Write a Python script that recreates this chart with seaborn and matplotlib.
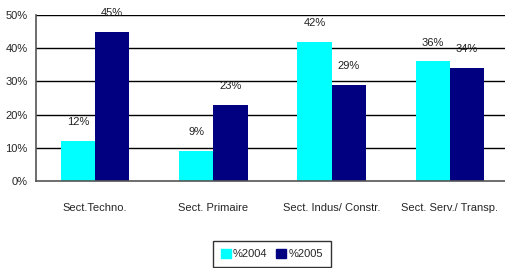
import matplotlib
matplotlib.use("Agg")
import matplotlib.pyplot as plt
import seaborn as sns
import pandas as pd

categories = ["Sect.Techno.", "Sect. Primaire", "Sect. Indus/ Constr.", "Sect. Serv./ Transp."]
series_names = ["%2004", "%2005"]
values_2004 = [12, 9, 42, 36]
values_2005 = [45, 23, 29, 34]
y_ticks = [0, 10, 20, 30, 40, 50]
y_tick_labels = ["0%", "10%", "20%", "30%", "40%", "50%"]
colors = ["#00FFFF", "#000080"]

rows = []
for c, v in zip(categories, values_2004):
    rows.append({"cat": c, "series": series_names[0], "val": v})
for c, v in zip(categories, values_2005):
    rows.append({"cat": c, "series": series_names[1], "val": v})
df = pd.DataFrame(rows)

sns.set_style("white")
plt.rcParams["font.family"] = ["Liberation Sans", "DejaVu Sans"]
FS = 8

fig = plt.figure(figsize=(5.06, 2.68), dpi=100)
ax = fig.add_axes([36/506, 87/268, 473/506, 166/268])

sns.barplot(data=df, x="cat", y="val", hue="series", palette=colors,
            width=0.58, gap=0, saturation=1, ax=ax, errorbar=None, legend=True,
            linewidth=0, edgecolor="none")

ax.set_ylim(0, 50)
ax.set_xlim(-0.5, 3.5)
ax.set_yticks(y_ticks)
ax.set_yticklabels(y_tick_labels, fontsize=FS)
ax.set_xticks([-0.5, 0.5, 1.5, 2.5])
ax.set_xticklabels([])
ax.set_xticks(range(len(categories)), minor=True)
ax.set_xticklabels(categories, minor=True, fontsize=FS)
ax.tick_params(axis="x", which="minor", length=0, pad=16)
ax.tick_params(axis="x", which="major", length=4, width=1, color="#333333", direction="out")
ax.tick_params(axis="y", length=4, width=1, color="#333333", direction="out", pad=2)
ax.set_xlabel("")
ax.set_ylabel("")

for y in y_ticks[1:]:
    ax.axhline(y, color="black", linewidth=1, zorder=0)
ax.set_axisbelow(True)

for s in ["top", "right"]:
    ax.spines[s].set_visible(False)
for s in ["left", "bottom"]:
    ax.spines[s].set_color("#555555")
    ax.spines[s].set_linewidth(1.2)

for cont in ax.containers:
    ax.bar_label(cont, labels=[f"{int(round(b.get_height()))}%" for b in cont],
                 padding=10, fontsize=FS, color="#222222")

ax.get_legend().remove()
handles = [plt.Rectangle((0, 0), 1, 1, color=c) for c in colors]
leg = fig.legend(handles, series_names, loc="upper center",
                 bbox_to_anchor=(272/506, 1 - 241/268), ncol=2, fontsize=FS,
                 frameon=True, fancybox=False, edgecolor="black",
                 handlelength=0.9, handleheight=0.9, handletextpad=0.2,
                 columnspacing=0.8, borderpad=0.7, borderaxespad=0)
leg.get_frame().set_linewidth(1)

fig.savefig("out.png", dpi=100)
